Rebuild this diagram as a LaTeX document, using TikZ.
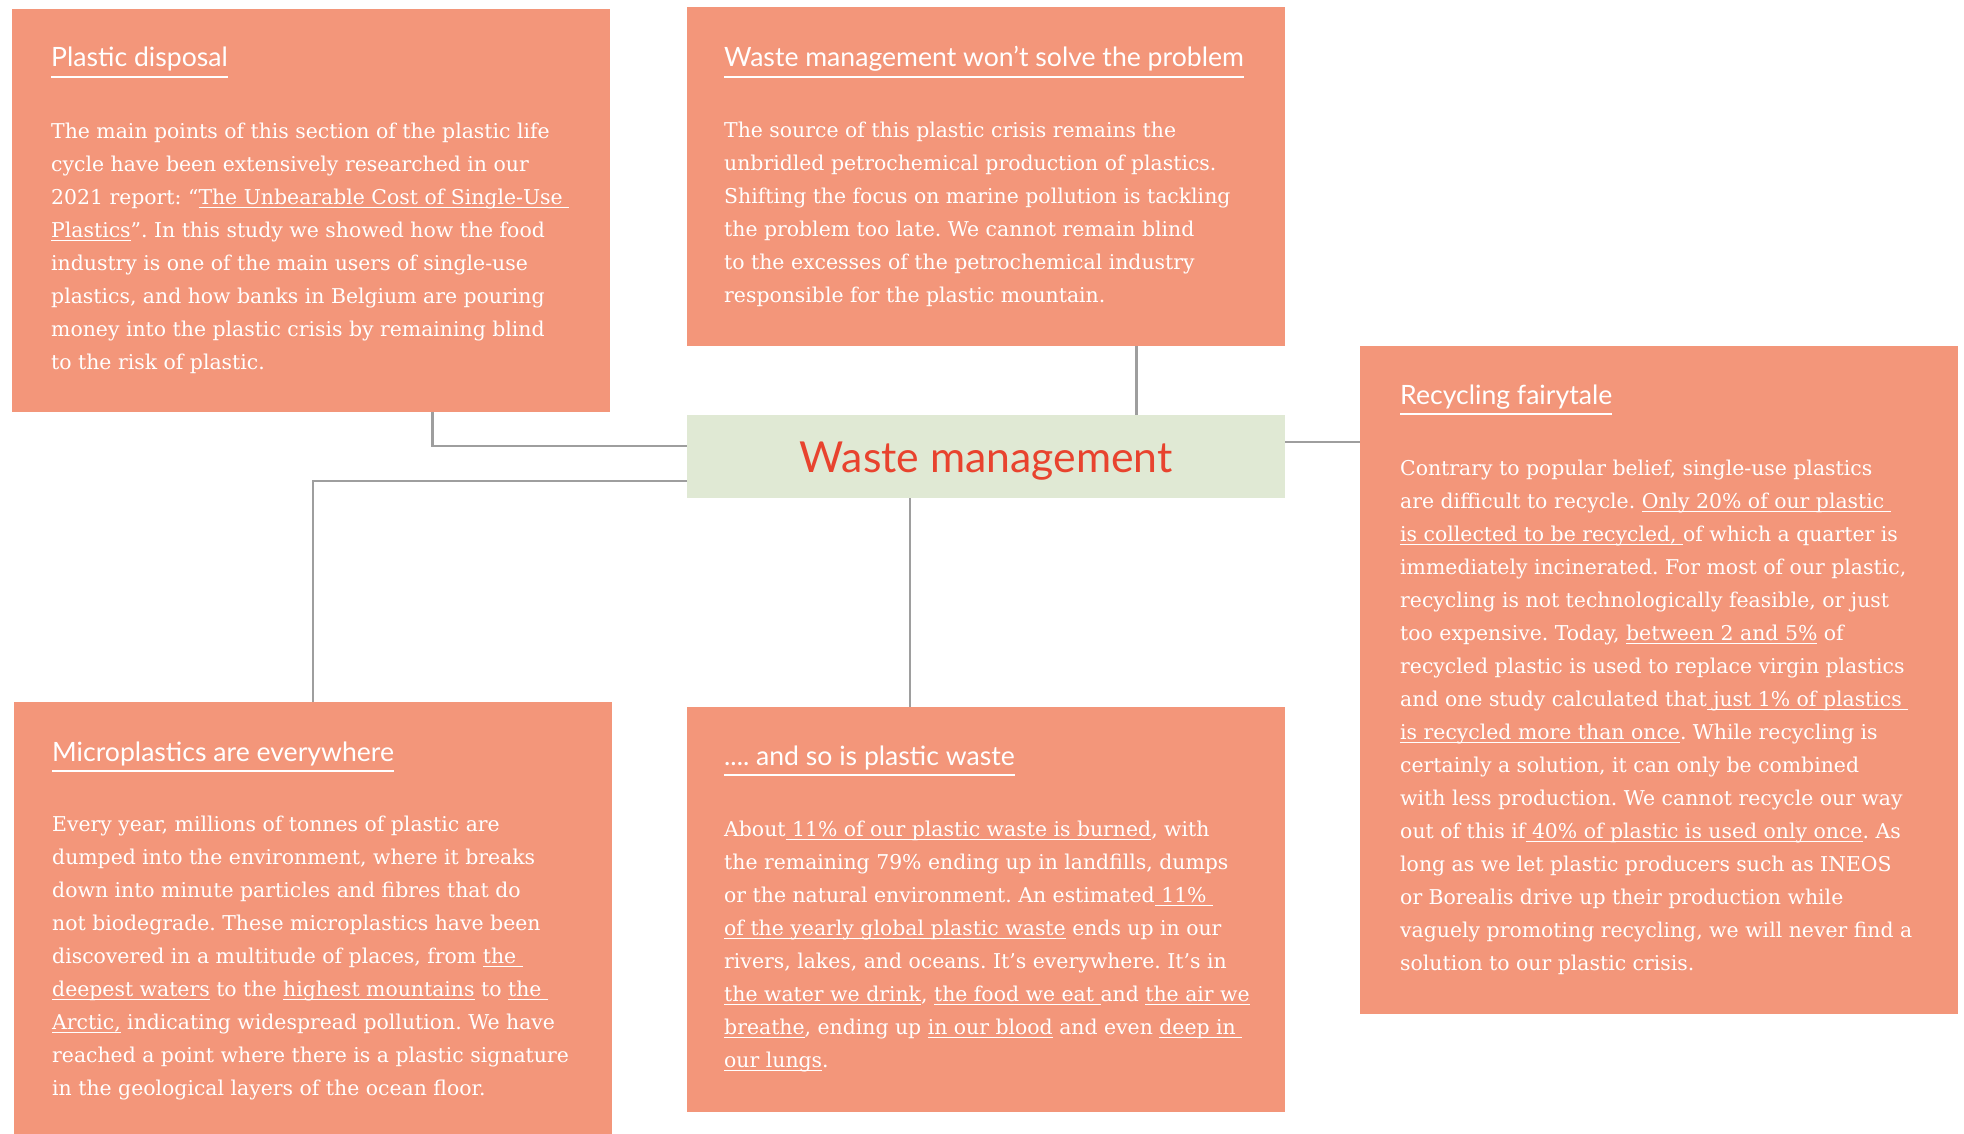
\documentclass[tikz,border=0pt]{standalone}
\usepackage{fontspec}
\setmainfont{DejaVu Serif}
\newfontfamily\headfont{Lato}
\frenchspacing

\definecolor{salmon}{HTML}{F3967A}
\definecolor{sage}{HTML}{E0E9D4}
\definecolor{brick}{HTML}{E8432E}
\definecolor{wire}{HTML}{9E9E9E}

% underlined link text
\newsavebox{\lnkbox}
\newcommand{\lnk}[1]{\sbox{\lnkbox}{#1}\rlap{\rule[-4pt]{\wd\lnkbox}{1pt}}\usebox{\lnkbox}}

\tikzset{
  card/.style={fill=salmon, inner sep=0, anchor=north west, minimum width=598pt},
  head/.style={font=\headfont\fontsize{26.6}{30}\selectfont, text=white, inner sep=0, anchor=base west},
  body/.style={font=\fontsize{20.4}{33}\selectfont, text=white, inner sep=0, anchor=north west, align=left},
  headline/.style={white, line width=2.6pt},
  link/.style={wire, line width=2.2pt},
}

\begin{document}
\begin{tikzpicture}[x=1pt, y=-1pt]
\useasboundingbox (0,0) rectangle (1964,1134);

% boxes
\node[card, minimum height=403pt] (pd) at (12,9) {};
\node[card, minimum height=339pt] (wmw) at (687,7) {};
\node[card, fill=sage, minimum height=83pt] (wm) at (687,415) {};
\node[card, minimum height=668pt] (rf) at (1360,346) {};
\node[card, minimum height=432pt] (mp) at (14,702) {};
\node[card, minimum height=405pt] (as) at (687,707) {};

\node[font=\headfont\fontsize{42.7}{50}\selectfont, text=brick, inner sep=0, anchor=base] (title) at ([yshift=-15.5pt]wm.center) {Waste management};

% connectors
\draw[link] ([xshift=-178pt]pd.south east) |- ([yshift=10.5pt]wm.west);
\draw[link] ([xshift=-149pt]wmw.south east) -- ([xshift=-149pt]wm.north east);
\coordinate (rfin) at ([yshift=14.5pt]wm.east -| rf.west);
\draw[link] ([yshift=14.5pt]wm.east) -- (rfin);
\draw[link] ([yshift=-24.5pt]wm.west) -| (mp.north);
\draw[link] ([xshift=-76pt]wm.south) -- ([xshift=-76pt]as.north);

% Plastic disposal
\node[head] (pdh) at ([shift={(39,58)}]pd.north west) {Plastic disposal};
\draw[headline] ([yshift=-10pt]pdh.base west) -- ([yshift=-10pt]pdh.base east);
\node[body] (pdb) at ([shift={(39,106)}]pd.north west) {\strut The main points of this section of the plastic life\\
cycle have been extensively researched in our\\
2021 report: “\lnk{The Unbearable Cost of Single-Use }\\
\lnk{Plastics}”. In this study we showed how the food\\
industry is one of the main users of single-use\\
plastics, and how banks in Belgium are pouring\\
money into the plastic crisis by remaining blind\\
to the risk of plastic.};

% Waste management won't solve the problem
\node[head] (wmwh) at ([shift={(37,60)}]wmw.north west) {Waste management won’t solve the problem};
\draw[headline] ([yshift=-10pt]wmwh.base west) -- ([yshift=-10pt]wmwh.base east);
\node[body] (wmwb) at ([shift={(37,107)}]wmw.north west) {\strut The source of this plastic crisis remains the\\
unbridled petrochemical production of plastics.\\
Shifting the focus on marine pollution is tackling\\
the problem too late. We cannot remain blind\\
to the excesses of the petrochemical industry\\
responsible for the plastic mountain.};

% Recycling fairytale
\node[head] (rfh) at ([shift={(40,58)}]rf.north west) {Recycling fairytale};
\draw[headline] ([yshift=-10pt]rfh.base west) -- ([yshift=-10pt]rfh.base east);
\node[body] (rfb) at ([shift={(40,106)}]rf.north west) {\strut Contrary to popular belief, single-use plastics\\
are difficult to recycle. \lnk{Only 20\% of our plastic }\\
\lnk{is collected to be recycled, }of which a quarter is\\
immediately incinerated. For most of our plastic,\\
recycling is not technologically feasible, or just\\
too expensive. Today, \lnk{between 2 and 5\%} of\\
recycled plastic is used to replace virgin plastics\\
and one study calculated that\lnk{ just 1\% of plastics }\\
\lnk{is recycled more than once}. While recycling is\\
certainly a solution, it can only be combined\\
with less production. We cannot recycle our way\\
out of this if\lnk{ 40\% of plastic is used only once}. As\\
long as we let plastic producers such as INEOS\\
or Borealis drive up their production while\\
vaguely promoting recycling, we will never find a\\
solution to our plastic crisis.};

% Microplastics are everywhere
\node[head] (mph) at ([shift={(38,59)}]mp.north west) {Microplastics are everywhere};
\draw[headline] ([yshift=-10pt]mph.base west) -- ([yshift=-10pt]mph.base east);
\node[body] (mpb) at ([shift={(38,106)}]mp.north west) {\strut Every year, millions of tonnes of plastic are\\
dumped into the environment, where it breaks\\
down into minute particles and fibres that do\\
not biodegrade. These microplastics have been\\
discovered in a multitude of places, from \lnk{the }\\
\lnk{deepest waters} to the \lnk{highest mountains} to \lnk{the }\\
\lnk{Arctic,} indicating widespread pollution. We have\\
reached a point where there is a plastic signature\\
in the geological layers of the ocean floor.};

% .... and so is plastic waste
\node[head] (ash) at ([shift={(37,58)}]as.north west) {.... and so is plastic waste};
\draw[headline] ([yshift=-10pt]ash.base west) -- ([yshift=-10pt]ash.base east);
\node[body] (asb) at ([shift={(37,106)}]as.north west) {\strut About\lnk{ 11\% of our plastic waste is burned}, with\\
the remaining 79\% ending up in landfills, dumps\\
or the natural environment. An estimated\lnk{ 11\% }\\
\lnk{of the yearly global plastic waste} ends up in our\\
rivers, lakes, and oceans. It’s everywhere. It’s in\\
\lnk{the water we drink}, \lnk{the food we eat }and \lnk{the air we}\\
\lnk{breathe}, ending up \lnk{in our blood} and even \lnk{deep in }\\
\lnk{our lungs}.};
\end{tikzpicture}
\end{document}
